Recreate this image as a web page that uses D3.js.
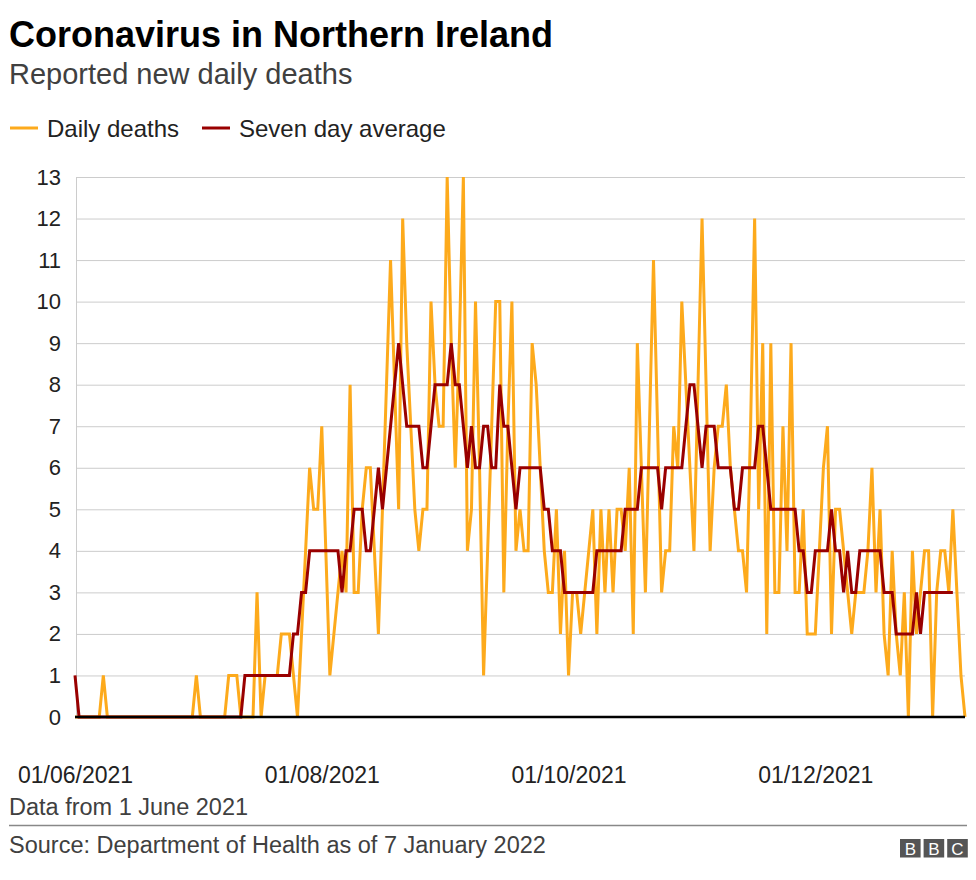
<!DOCTYPE html>
<html>
<head>
<meta charset="utf-8">
<script src="https://cdn.jsdelivr.net/npm/d3@7"></script>
<style>
  html, body { margin: 0; padding: 0; background: #fff; }
  svg { display: block; font-family: "Liberation Sans", Arial, Helvetica, sans-serif; }
</style>
</head>
<body>
<svg id="chart" width="976" height="880"></svg>
<script>
const startDate = "2021-06-01";
const dailyDeaths = [
  0,0,0,0,0,0,0,1,0,0, 0,0,0,0,0,0,0,0,0,0, 0,0,0,0,0,0,0,0,0,0,
  1,0,0,0,0,0,0,0,1,1, 1,0,0,0,0,3,0,1,1,1, 1,2,2,2,1,0,2,4,6,5,
  5,7,4,1,2,3,4,3,8,3, 3,5,6,6,4,2,5,8,11,8, 5,12,9,7,5,4,5,5,10,8,
  7,7,13,9,6,9,13,4,5,10, 6,1,4,7,10,10,3,7,10,4, 5,4,4,9,8,6,4,3,3,5,
  2,4,1,3,3,2,3,4,5,2, 5,3,5,3,5,5,4,6,2,9, 6,3,7,11,7,3,4,4,7,6,
  10,8,6,4,8,12,8,4,6,7, 7,8,6,5,4,4,3,7,12,5, 9,2,9,3,3,7,4,9,3,3,
  5,2,2,2,4,6,7,2,5,5, 4,3,2,3,3,3,4,6,3,5, 2,1,4,2,1,3,0,4,2,3,
  4,4,0,3,4,4,3,5,3,1, 0
];
const sevenDayAverage = [
  1,0,0,0,0,0,0,0,0,0, 0,0,0,0,0,0,0,0,0,0, 0,0,0,0,0,0,0,0,0,0,
  0,0,0,0,0,0,0,0,0,0, 0,0,1,1,1,1,1,1,1,1, 1,1,1,1,2,2,3,3,4,4,
  4,4,4,4,4,4,3,4,4,5, 5,5,4,4,5,6,5,6,7,8, 9,8,7,7,7,7,6,6,7,8,
  8,8,8,9,8,8,7,6,7,6, 6,7,7,6,6,8,7,7,6,5, 6,6,6,6,6,6,5,5,4,4,
  4,3,3,3,3,3,3,3,3,4, 4,4,4,4,4,4,5,5,5,5, 6,6,6,6,6,5,6,6,6,6,
  6,7,8,8,7,6,7,7,7,6, 6,6,6,5,5,6,6,6,6,7, 7,6,5,5,5,5,5,5,5,4,
  4,3,3,4,4,4,4,5,4,4, 3,4,3,3,4,4,4,4,4,4, 3,3,3,2,2,2,2,2,3,2,
  3,3,3,3,3,3,3,3
];
const endDate = "2022-01-07";
const yTicks = [0,1,2,3,4,5,6,7,8,9,10,11,12,13];
const xTickDates = ["2021-06-01","2021-08-01","2021-10-01","2021-12-01"];
const seriesNames = ["Daily deaths", "Seven day average"];
const seriesColors = ["#fdaa1c", "#990000"];

const parse = d3.utcParse("%Y-%m-%d");
const t0 = parse(startDate);
const dateAt = i => d3.utcDay.offset(t0, i);

const svg = d3.select("#chart");
const margin = {left: 76, right: 965, top: 177, bottom: 717};

const x = d3.scaleUtc().domain([t0, parse(endDate)]).range([75, margin.right]);
const y = d3.scaleLinear().domain([0, 13]).range([margin.bottom, margin.top]);

// Title & subtitle
svg.append("text").attr("x", 9).attr("y", 47)
  .attr("font-size", 36).attr("font-weight", "bold").attr("fill", "#000")
  .text("Coronavirus in Northern Ireland");
svg.append("text").attr("x", 9).attr("y", 84)
  .attr("font-size", 29).attr("fill", "#404040")
  .text("Reported new daily deaths");

// Legend
const legend = svg.append("g");
const legX = [10, 202];
seriesNames.forEach((n, k) => {
  legend.append("line").attr("x1", legX[k]).attr("x2", legX[k] + 28)
    .attr("y1", 128).attr("y2", 128)
    .attr("stroke", seriesColors[k]).attr("stroke-width", 3);
  legend.append("text").attr("x", legX[k] + 37).attr("y", 136.5)
    .attr("font-size", 24).attr("fill", "#222").text(n);
});

// Gridlines + y labels
const yAxis = d3.axisLeft(y).tickValues(yTicks).tickSize(-(margin.right - margin.left)).tickPadding(15);
const gy = svg.append("g").attr("transform", `translate(${margin.left},0)`).call(yAxis);
gy.select(".domain").attr("stroke", "#cccccc").attr("stroke-width", 1);
gy.selectAll(".tick line").attr("stroke", "#cccccc").attr("stroke-width", 1);
gy.selectAll(".tick text").attr("font-size", 22).attr("fill", "#222")
  .attr("font-family", "Liberation Sans, Arial, sans-serif");

// x axis labels
const xAxis = d3.axisBottom(x).tickValues(xTickDates.map(parse))
  .tickFormat(d3.utcFormat("%d/%m/%Y")).tickSize(0).tickPadding(0);
const gx = svg.append("g").attr("transform", `translate(0,${margin.bottom})`).call(xAxis);
gx.select(".domain").remove();
gx.selectAll(".tick text").attr("font-size", 23).attr("fill", "#222")
  .attr("y", 66).attr("dy", 0)
  .attr("font-family", "Liberation Sans, Arial, sans-serif");

// Lines
const line = d3.line().x((d, i) => x(dateAt(i))).y(d => y(d)).curve(d3.curveLinear);
svg.append("path").datum(dailyDeaths).attr("d", line)
  .attr("fill", "none").attr("stroke", seriesColors[0]).attr("stroke-width", 3)
  .attr("stroke-linejoin", "miter").attr("stroke-miterlimit", 2);
svg.append("path").datum(sevenDayAverage).attr("d", line)
  .attr("fill", "none").attr("stroke", seriesColors[1]).attr("stroke-width", 3)
  .attr("stroke-linejoin", "miter").attr("stroke-miterlimit", 2);

// baseline
svg.append("line").attr("x1", 75).attr("x2", margin.right)
  .attr("y1", y(0)).attr("y2", y(0)).attr("stroke", "#000").attr("stroke-width", 2.5);

// Footer
svg.append("text").attr("x", 9).attr("y", 815).attr("font-size", 23.5).attr("fill", "#404040")
  .text("Data from 1 June 2021");
svg.append("line").attr("x1", 9).attr("x2", 967).attr("y1", 825.5).attr("y2", 825.5)
  .attr("stroke", "#888").attr("stroke-width", 1.5);
svg.append("text").attr("x", 9).attr("y", 853).attr("font-size", 23.5).attr("fill", "#404040")
  .text("Source: Department of Health as of 7 January 2022");

const bbc = svg.append("g").attr("transform", "translate(900,839)");
["B","B","C"].forEach((c, k) => {
  bbc.append("rect").attr("x", k * 23.6).attr("y", 0).attr("width", 20.6).attr("height", 18.5).attr("fill", "#555");
  bbc.append("text").attr("x", k * 23.6 + 10.3).attr("y", 15.5).attr("text-anchor", "middle")
    .attr("font-size", 17).attr("fill", "#fff").text(c);
});
</script>
</body>
</html>
